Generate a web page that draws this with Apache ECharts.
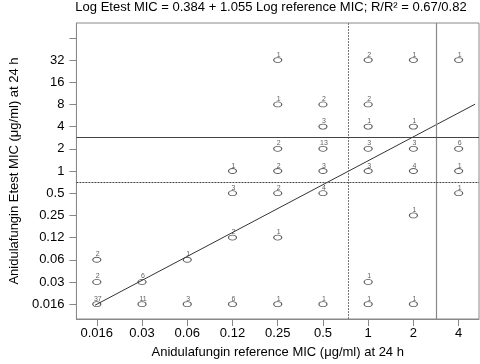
<!DOCTYPE html>
<html>
<head>
<meta charset="utf-8">
<script src="https://cdn.jsdelivr.net/npm/echarts@6/dist/echarts.min.js"></script>
<style>
html, body {margin: 0; padding: 0; background: #fff;}
#main {width: 480px; height: 364px;}
</style>
</head>
<body>
<div id="main"></div>
<script>
/* tick labels, position i = log2 step (i - 6) */
let xTicks = ['0.016', '0.03', '0.06', '0.12', '0.25', '0.5', '1', '2', '4'];
let yTicks = ['0.016', '0.03', '0.06', '0.12', '0.25', '0.5', '1', '2', '4', '8', '16', '32', ''];

// one entry per plotted cell: reference MIC tick, Etest MIC tick, number of isolates
let refIdx   = [0, 0, 0, 1, 1, 2, 2, 3, 3, 3, 3, 4, 4, 4, 4, 4, 4, 4, 5, 5, 5, 5, 5, 5, 6, 6, 6, 6, 6, 6, 6, 7, 7, 7, 7, 7, 7, 8, 8, 8, 8];
let etestIdx = [0, 1, 2, 0, 1, 0, 2, 0, 3, 5, 6, 0, 3, 5, 6, 7, 9, 11, 0, 5, 6, 7, 8, 9, 0, 1, 6, 7, 8, 9, 11, 0, 4, 6, 7, 8, 11, 5, 6, 7, 11];
let counts   = [37, 2, 2, 11, 6, 3, 1, 6, 2, 3, 1, 1, 1, 2, 2, 2, 1, 1, 1, 4, 3, 13, 3, 2, 1, 1, 3, 3, 1, 2, 2, 1, 1, 4, 3, 1, 1, 1, 1, 6, 1];

// regression line ends (MIC, µg/ml)
let fitRef = [0.0152, 5.15];
let fitEtest = [0.0151, 8.07];

// breakpoint lines (MIC)
let xBreaks = [0.73, 2.83];
let yBreaks = [0.71, 2.83];

const FONT = 'Liberation Sans, Arial, Helvetica, sans-serif';

function tickPos(list){
    return list.map((t, i) => i - 6);
}

let points = refIdx.map((r, i) => [r - 6, etestIdx[i] - 6, counts[i]]);
let fitLine = fitRef.map((r, i) => [Math.log2(r), Math.log2(fitEtest[i])]);

let option = {
    animation: false,
    title: {
        text: 'Log Etest MIC = 0.384 + 1.055 Log reference MIC; R/R\u00b2 = 0.67/0.82',
        left: 271,
        textAlign: 'center',
        top: 1,
        padding: 0,
        textStyle: {fontSize: 13, fontWeight: 'normal', color: '#000', fontFamily: FONT}
    },
    grid: {
        left: 63, right: 1, top: 23, bottom: 42,
        show: true, borderColor: '#888', borderWidth: 1
    },
    xAxis: {
        type: 'value',
        min: -6.45, max: 2.45,
        splitLine: {show: false},
        axisLine: {show: true, onZero: false, lineStyle: {color: '#888'}},
        axisTick: {show: true, length: 7, lineStyle: {color: '#888'}, customValues: tickPos(xTicks)},
        axisLabel: {
            customValues: tickPos(xTicks),
            formatter: v => xTicks[Math.round(v) + 6],
            color: '#000', fontSize: 13, margin: 8, fontFamily: FONT
        },
        name: 'Anidulafungin reference MIC (\u03bcg/ml) at 24 h',
        nameLocation: 'middle',
        nameGap: 27,
        nameTextStyle: {fontSize: 13, color: '#000', fontFamily: FONT}
    },
    yAxis: {
        type: 'value',
        min: -6.67, max: 6.67,
        splitLine: {show: false},
        axisLine: {show: true, onZero: false, lineStyle: {color: '#888'}},
        axisTick: {show: true, length: 7, lineStyle: {color: '#888'}, customValues: tickPos(yTicks)},
        axisLabel: {
            customValues: tickPos(yTicks),
            formatter: v => yTicks[Math.round(v) + 6],
            color: '#000', fontSize: 13, margin: 12, fontFamily: FONT
        },
        name: 'Anidulafungin Etest MIC (\u03bcg/ml) at 24 h',
        nameLocation: 'middle',
        nameGap: 54,
        nameTextStyle: {fontSize: 13, color: '#000', fontFamily: FONT}
    },
    series: [
        {
            type: 'line',
            data: fitLine,
            symbol: 'none',
            silent: true,
            lineStyle: {color: '#333', width: 1},
            markLine: {
                silent: true,
                symbol: 'none',
                label: {show: false},
                data: [
                    {xAxis: Math.log2(xBreaks[0]), lineStyle: {color: '#777', width: 1, type: [2, 1]}},
                    {xAxis: Math.log2(xBreaks[1]), lineStyle: {color: '#888', width: 1.2, type: 'solid'}},
                    {yAxis: Math.log2(yBreaks[0]), lineStyle: {color: '#444', width: 1, type: [2, 1]}},
                    {yAxis: Math.log2(yBreaks[1]), lineStyle: {color: '#444', width: 1.2, type: 'solid'}}
                ]
            }
        },
        {
            type: 'scatter',
            data: points,
            symbol: 'circle',
            symbolSize: [8, 5],
            itemStyle: {color: 'rgba(255,255,255,0)', borderColor: '#333', borderWidth: 1},
            label: {
                show: true,
                position: 'top',
                distance: 0,
                offset: [1, 1],
                formatter: p => p.data[2],
                fontSize: 7,
                color: '#333',
                fontFamily: FONT
            }
        }
    ]
};

let chart = echarts.init(document.getElementById('main'), null, {renderer: 'canvas'});
chart.setOption(option);
</script>
</body>
</html>
